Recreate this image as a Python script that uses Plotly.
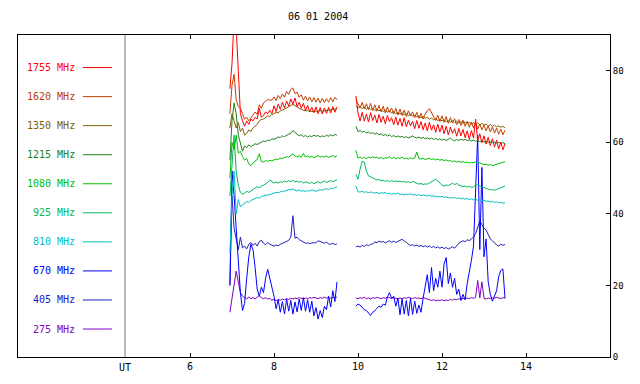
import plotly.graph_objects as go

# ---------------- data ----------------
TITLE = "06 01 2004"
FREQ_LABELS = ["1755 MHz", "1620 MHz", "1350 MHz", "1215 MHz", "1080 MHz",
               "925 MHz", "810 MHz", "670 MHz", "405 MHz", "275 MHz"]
COLORS = ["#FF0000", "#C04000", "#806000", "#208020", "#00C000",
          "#00B860", "#00C0C0", "#0000FF", "#2020C0", "#8000C0"]
X_TICKS = [6, 8, 10, 12, 14]
Y_TICKS = [0, 20, 40, 60, 80]

# sampling grid (UT hours) of the two observing segments
T_A = [round(6.95 + 0.05 * i, 2) for i in range(52)]   # 6.95 .. 9.50
T_B = [round(9.95 + 0.05 * i, 2) for i in range(72)]   # 9.95 .. 13.50

F1755_A = [75, 82, 95, 92, 80, 68, 66, 64.5, 66, 65,
           66.5, 66, 67, 66.5, 69.5, 67, 67.5, 68.5, 68, 69,
           68, 70.2, 68.6, 70.7, 69.2, 71.2, 69.6, 71.6, 70.1, 72.1,
           70.6, 72.4, 70, 71.2, 69.5, 70.9, 68.9, 70.3, 68.6, 69.8,
           68.3, 69.9, 68, 69.7, 67.9, 69.6, 68.1, 69.8, 68.2, 70,
           68.4, 69.9]
F1755_B = [73, 68.2, 66, 68.4, 65.9, 67.9, 65.7, 68.3, 66.1, 67.6,
           65.4, 67.8, 65.6, 67.3, 65.2, 67.5, 65.8, 66.9, 64.9, 67.1,
           64.8, 66.7, 64.5, 66.9, 64.3, 66.2, 64.6, 65.9, 63.8, 66.1,
           63.9, 65.8, 63.5, 65.4, 63.2, 65.6, 63.4, 64.9, 62.8, 65.1,
           62.9, 64.8, 62.4, 64.5, 62.1, 64.3, 62.5, 63.8, 61.7, 63.9,
           61.8, 63.6, 61.3, 63.2, 60.9, 63.3, 61.2, 66.5, 60.4, 62.4,
           59.9, 61.8, 59.5, 61.4, 59.1, 61, 58.7, 60.6, 58.2, 60.1,
           57.9, 59.6]

F1620_A = [68, 76, 79, 72, 70, 69.5, 68, 66.5, 67, 66,
           66.8, 67.5, 68.5, 67.8, 70.5, 69.5, 71, 71.5, 72, 71.8,
           71.8, 72.7, 71.7, 73.1, 72.2, 73.5, 72.6, 74.2, 73.4, 74.8,
           75.2, 73.6, 74, 72.6, 73.3, 71.8, 72.9, 71.6, 72.7, 71.3,
           72.5, 71.2, 72.4, 71, 72.3, 71.1, 72.2, 71.2, 72.5, 71.3,
           72.6, 71.9]
F1620_B = [72, 70.9, 69.6, 71.2, 69.4, 70.8, 69.1, 70.9, 68.9, 70.5,
           68.7, 70.3, 68.5, 70.1, 68.2, 69.9, 68.4, 69.6, 67.9, 69.5,
           67.6, 69.3, 67.5, 69, 67.2, 68.8, 67.4, 68.5, 66.9, 68.4,
           66.7, 68.1, 66.5, 67.9, 68.9, 69.4, 68.3, 67.5, 66.1, 67.6,
           65.8, 67.4, 65.6, 67.2, 65.3, 66.9, 65.4, 66.6, 64.9, 66.4,
           64.7, 66.2, 64.5, 65.9, 64.2, 65.7, 64, 65.4, 63.7, 65.1,
           63.5, 64.9, 63.2, 64.6, 62.9, 64.3, 62.6, 64, 62.3, 63.7,
           62.1, 63.4]

F1350_A = [64, 68, 66, 64, 65.5, 63, 64, 62, 62.5, 63.5,
           63, 64, 64.5, 65, 66, 66.4, 66.5, 67, 67.4, 67.2,
           67.8, 68, 68.4, 68.2, 68.8, 69, 69.3, 69.6, 69.8, 70.2,
           70.6, 70.3, 69.8, 69.5, 69.2, 69, 68.8, 68.9, 68.6, 68.7,
           68.5, 68.8, 68.6, 68.9, 68.7, 68.8, 68.9, 69, 69.1, 69.2,
           69.3, 69.4]
F1350_B = [70.2, 69.6, 70, 69.4, 69.9, 69.2, 69.7, 69.1, 69.5, 68.9,
           69.3, 68.8, 69.2, 68.6, 69, 68.4, 68.8, 68.2, 68.6, 68,
           68.4, 67.9, 68.2, 67.7, 68, 67.5, 67.8, 67.3, 67.6, 67.1,
           67.4, 66.9, 67.2, 66.7, 67, 66.5, 66.8, 66.3, 66.6, 66.1,
           66.4, 66, 66.3, 65.8, 66.1, 65.7, 66, 65.5, 65.9, 65.4,
           65.8, 65.3, 65.7, 65.2, 65.6, 65.1, 65.5, 65, 65.4, 64.9,
           65.3, 64.8, 65.1, 64.6, 65, 64.5, 64.8, 64.3, 64.6, 64.2,
           64.5, 64]

F1215_A = [55, 66, 71, 68, 62, 60, 57.5, 59, 58.5, 59.3,
           58.8, 59.2, 59.6, 59.4, 59.8, 60, 60.4, 60.2, 60.6, 60.5,
           61, 60.8, 61.2, 61.5, 61.3, 61.8, 61.6, 62, 62.3, 62.5,
           63.3, 62.8, 62.2, 61.8, 62.1, 61.6, 61.9, 61.5, 61.8, 61.6,
           62, 61.7, 61.9, 61.5, 61.8, 61.6, 62, 61.7, 62.1, 61.8,
           62.2, 62]
F1215_B = [64.5, 63, 63.3, 62.8, 63.1, 62.6, 62.9, 62.4, 62.7, 62.3,
           62.6, 62.1, 62.4, 61.9, 62.2, 61.8, 62.1, 61.6, 61.9, 61.5,
           61.8, 61.4, 61.7, 61.3, 61.6, 61.2, 61.5, 61.8, 61.4, 61.2,
           61.5, 61.1, 61.4, 61, 61.3, 60.9, 61.2, 60.8, 61.1, 60.7,
           61, 60.6, 60.9, 60.5, 60.8, 61.2, 60.7, 60.4, 60.8, 60.5,
           60.9, 60.6, 60.8, 60.5, 60.7, 60.4, 60.6, 60.3, 60.5, 60.2,
           60.4, 60.1, 60.3, 60, 60.2, 59.9, 60.1, 59.8, 60, 59.7,
           59.9, 59.6]

F1080_A = [50, 60, 58, 62, 57, 57.5, 56, 55, 55.5, 54,
           53.5, 54.2, 54.8, 55.2, 56.8, 54.6, 54.5, 54.9, 54.7, 55,
           54.8, 55.1, 55.3, 55.2, 55.6, 55.5, 55.8, 56, 55.9, 56.3,
           56.8, 56.2, 55.9, 56.3, 55.8, 56.9, 55.9, 56.2, 55.8, 56.1,
           55.7, 56, 56.3, 55.8, 56.1, 55.9, 56.2, 55.8, 56, 56.3,
           55.9, 56.2]
F1080_B = [57.8, 55.6, 55.9, 55.5, 55.8, 55.4, 55.9, 55.6, 56, 55.7,
           55.9, 55.5, 55.8, 55.4, 55.7, 55.6, 56, 55.5, 55.8, 55.4,
           55.7, 55.5, 55.9, 55.4, 55.6, 55.3, 55.7, 55.4, 55.6, 57.3,
           55.5, 55.3, 55.6, 55.2, 55.4, 55.5, 55.2, 55.4, 55.1, 55.3,
           55, 55.2, 54.9, 55.1, 54.8, 54.9, 54.6, 54.8, 54.5, 54.7,
           54.4, 54.6, 54.3, 54.5, 54.2, 54.4, 54.3, 54.5, 54.1, 54.3,
           54, 53.8, 53.9, 53.6, 53.8, 53.5, 53.7, 53.9, 54.1, 54.3,
           54.5, 54.6]

F925_A = [45, 55, 62, 52, 48, 46, 45.5, 45.8, 46.3, 46,
          46.5, 46.8, 47.2, 47.6, 47.3, 47.8, 48, 48.3, 48.8, 49.5,
          49, 48.6, 48.9, 48.6, 49, 48.8, 49.2, 48.9, 49.3, 49,
          49.4, 48.9, 49.2, 48.8, 49.1, 48.6, 49, 48.7, 48.5, 48.9,
          48.4, 48.8, 49, 48.6, 48.9, 49.2, 48.8, 49.1, 49.3, 49,
          49.4, 49.6]
F925_B = [51, 49.7, 52.5, 54.7, 54.5, 52, 50.6, 50.3, 50, 49.8,
          49.5, 49.6, 49.2, 49.4, 49.1, 49.3, 49, 49.3, 49.1, 49.2,
          49, 49.2, 48.9, 49.1, 48.8, 49, 48.7, 49.1, 48.8, 48.6,
          48.3, 48.5, 48.2, 48.4, 48.3, 48.6, 48.9, 49.3, 49.7, 49.2,
          48.5, 48, 47.8, 48.1, 47.9, 48.3, 48.6, 48.2, 48.5, 48.1,
          47.9, 47.6, 47.8, 47.5, 47.7, 47.4, 47.6, 47.9, 48.2, 47.8,
          47.5, 47.3, 47.1, 46.9, 46.7, 46.8, 46.6, 46.8, 47, 47.3,
          47.5, 47.8]

F810_A = [29, 45, 52, 40, 44, 42, 42.5, 43, 43.5, 43.2,
          43.8, 44, 44.3, 44.6, 44.4, 44.9, 45, 45.3, 45.2, 45.5,
          45.6, 45.8, 46, 45.9, 46.2, 46.4, 46.3, 46.6, 46.8, 46.7,
          47, 46.6, 46.4, 46.7, 46.3, 46.5, 46.2, 46.5, 46.4, 46.7,
          46.5, 46.3, 46.6, 46.8, 46.6, 46.9, 47.1, 46.8, 47.2, 47,
          47.4, 47.5]
F810_B = [47.8, 46.2, 46.1, 46.3, 46, 46.2, 45.9, 46.1, 46, 45.8,
          46, 45.7, 45.9, 45.8, 46, 45.6, 45.8, 45.5, 45.7, 45.6,
          45.8, 45.4, 45.6, 45.3, 45.5, 45.4, 45.6, 45.3, 45.4, 45.2,
          45.4, 45.1, 45.3, 45.2, 45, 45.2, 44.9, 45.1, 44.8, 44.9,
          44.7, 44.9, 44.6, 44.8, 44.5, 44.6, 44.4, 44.6, 44.3, 44.5,
          44.2, 44.4, 44.1, 44.3, 44, 44.2, 43.9, 44.1, 43.8, 44,
          43.7, 43.8, 43.5, 43.6, 43.3, 43.5, 43.2, 43.4, 43.1, 43.2,
          43, 43.1]

F670_A = [20, 52, 45, 36, 28, 18, 13, 15, 22, 28,
          31.5, 30, 25, 19, 17, 19.5, 18, 22, 24.5, 22,
          20, 17, 13.5, 16, 12.5, 15.5, 12, 16.2, 12.8, 15.8,
          12, 15.4, 12.6, 16.2, 13, 16.6, 12.8, 16, 12.5, 15.6,
          11.5, 13.8, 10.6, 13, 11, 14.2, 13.2, 17, 14, 18.5,
          15.5, 21]
F670_B = [14.2, 14.8, 14.5, 13.8, 13.2, 13, 12.3, 11.6, 12.5, 12.9,
          13.6, 14.2, 13.9, 14.8, 14.5, 16.8, 18, 16.4, 17, 14.2,
          16.5, 11.8, 16.2, 12, 15.8, 11.5, 16.4, 11.9, 15.6, 12.2,
          14.5, 12.5, 16.4, 20, 23, 18, 25, 18.5, 22, 19.5,
          24, 19.5, 26, 27.8, 20.5, 23.5, 19.5, 22, 17.5, 19,
          15.8, 17.5, 16, 20.5, 23.5, 27, 31, 45, 62, 30,
          53, 28, 33, 21, 17.5, 15.6, 17, 18.5, 22.5, 24.2,
          24.6, 16.4]

F405_A = [20, 45, 36, 33, 30, 33.5, 30.5, 31, 30.2, 31.5,
          32, 31.2, 31.8, 31, 32.3, 32.6, 31.8, 31.4, 32, 31.5,
          31.2, 31, 31.3, 31.1, 31.5, 31.8, 32, 32.4, 32.6, 33.5,
          39.5, 33.2, 33.5, 32.8, 32.5, 32, 31.8, 31.9, 31.7, 31.9,
          31.8, 31.9, 32.5, 32.3, 32, 31.8, 32.1, 31.6, 31.5, 31.8,
          31.4, 31.7]
F405_B = [30.8, 31, 30.7, 31.2, 30.9, 31.4, 31.1, 31.5, 31.6, 32.2,
          31.9, 32.4, 32.1, 32.3, 31.9, 32.2, 32.5, 32.1, 32.4, 32,
          32.3, 32.6, 32.9, 32.4, 32.1, 31.5, 31.2, 31.4, 31, 31.3,
          30.9, 31.2, 30.8, 31.1, 30.7, 31, 30.6, 30.9, 30.5, 30.8,
          30.4, 30.7, 30.3, 30.6, 30.2, 30.5, 30.8, 30.4, 31.2, 31.8,
          32.2, 32.5, 32.2, 32.8, 32.5, 33, 33.5, 34.5, 36, 38,
          37, 36, 35.5, 34, 33, 32.5, 31.8, 31.3, 31, 31.5,
          31.2, 31.5]

F275_A = [12.5, 16.5, 20, 24, 21, 18, 17, 16.5, 16.2, 16.8,
          16.3, 16.6, 16.2, 16.7, 17.2, 16.5, 16.3, 16.6, 16.2, 16.4,
          15.9, 16.1, 15.8, 16, 15.9, 16.2, 16, 16.3, 16.1, 16.4,
          16.2, 16.5, 16.3, 16.6, 16.4, 16.2, 16.5, 16.3, 16.6, 16.4,
          16.7, 16.5, 16.3, 16.6, 16.4, 16.7, 16.5, 16.6, 16.4, 16.7,
          16.5, 16.8]
F275_B = [16.5, 16.3, 16.6, 16.4, 16.7, 16.3, 16.5, 16.2, 16.6, 16.4,
          16.7, 16.5, 16.3, 16.6, 16.4, 16.8, 16.5, 16.3, 16.6, 16.4,
          16.2, 16.5, 16.3, 16.6, 16.4, 16.7, 16.5, 16.3, 16.6, 16.4,
          16.5, 16.3, 16.6, 16.4, 16.2, 15.9, 15.8, 16, 15.7, 15.9,
          15.8, 16, 15.7, 15.9, 15.8, 16.1, 15.9, 16.2, 16, 16.3,
          16.1, 16.4, 16.2, 16.5, 16.3, 16.6, 16.4, 16.7, 21.4, 16.5,
          21, 16.4, 16.2, 16.5, 16.3, 16.6, 16.4, 16.7, 16.5, 16.3,
          16.6, 16.4]

SERIES = [(F1755_A, F1755_B), (F1620_A, F1620_B), (F1350_A, F1350_B),
          (F1215_A, F1215_B), (F1080_A, F1080_B), (F925_A, F925_B),
          (F810_A, F810_B), (F670_A, F670_B), (F405_A, F405_B),
          (F275_A, F275_B)]

# ---------------- figure ----------------
FONT = "DejaVu Sans Mono"
X_MIN, X_MAX = 6 - 172 / 42, 16
SEP_X = 6 - 65 / 42          # grey separator between legend and data

fig = go.Figure()
for i in reversed(range(len(SERIES))):
    a, b = SERIES[i]
    fig.add_trace(go.Scatter(
        x=T_A + [None] + T_B,
        y=list(a) + [None] + list(b),
        mode="lines",
        line=dict(color=COLORS[i], width=1),
        connectgaps=False,
        hoverinfo="skip",
        showlegend=False,
    ))

annotations = []
shapes = []
for i, (lab, col) in enumerate(zip(FREQ_LABELS, COLORS)):
    yv = 80.9 - 8.12 * i
    annotations.append(dict(x=3.30, y=yv, xref="x", yref="y", text=lab,
                            showarrow=False, xanchor="right", yanchor="middle",
                            font=dict(family=FONT, size=10, color=col)))
    shapes.append(dict(type="line", xref="x", yref="y", x0=3.45, x1=4.14,
                       y0=yv, y1=yv, line=dict(color=col, width=1)))

shapes.append(dict(type="line", xref="x", yref="paper", x0=SEP_X, x1=SEP_X,
                   y0=0, y1=1, line=dict(color="#707070", width=1)))

annotations.append(dict(x=SEP_X, y=-0.034, xref="x", yref="paper", text="UT",
                        showarrow=False, xanchor="center", yanchor="middle",
                        font=dict(family=FONT, size=10, color="black")))
annotations.append(dict(x=0.507, y=1.056, xref="paper", yref="paper", text=TITLE,
                        showarrow=False, xanchor="center", yanchor="middle",
                        font=dict(family=FONT, size=10, color="black")))

fig.update_layout(
    width=640, height=384,
    margin=dict(l=18, r=30, t=35, b=25),
    paper_bgcolor="white", plot_bgcolor="white",
    font=dict(family=FONT, size=10, color="black"),
    annotations=annotations, shapes=shapes,
    xaxis=dict(range=[X_MIN, X_MAX], tickvals=X_TICKS,
               ticktext=[str(v) for v in X_TICKS],
               showgrid=False, zeroline=False, showline=True,
               linecolor="black", linewidth=1, mirror="ticks",
               ticks="inside", ticklen=4, tickcolor="black",
               tickfont=dict(family=FONT, size=10)),
    yaxis=dict(range=[0, 90], tickvals=Y_TICKS, side="right",
               showgrid=False, zeroline=False, showline=True,
               linecolor="black", linewidth=1, mirror=True,
               ticks="inside", ticklen=4, tickcolor="black",
               tickfont=dict(family=FONT, size=9)),
)

fig.write_html("out.html",
               config={"displayModeBar": False, "staticPlot": True},
               post_script="document.body.style.margin='0';"
                           "document.body.style.padding='0';")
